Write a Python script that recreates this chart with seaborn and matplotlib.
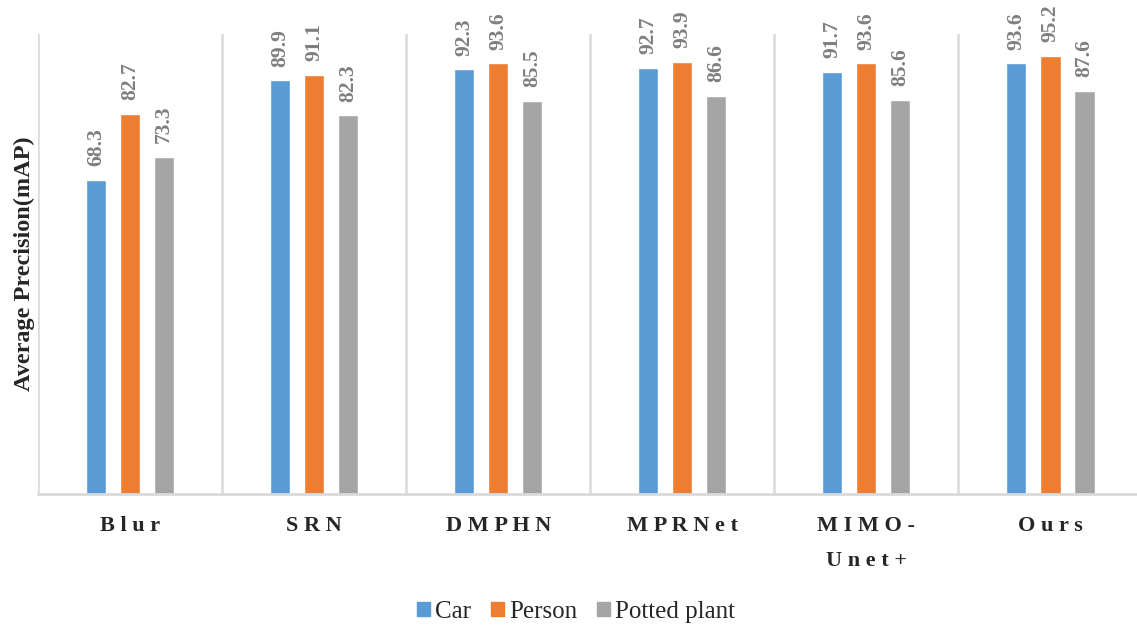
import pandas as pd
import numpy as np
import matplotlib
matplotlib.use('Agg')
import matplotlib.pyplot as plt
import seaborn as sns

methods = ['Blur', 'SRN', 'DMPHN', 'MPRNet', 'MIMO-\nUnet+', 'Ours']
classes = ['Car', 'Person', 'Potted plant']
car = [68.3, 89.9, 92.3, 92.7, 91.7, 93.6]
person = [82.7, 91.1, 93.6, 93.9, 93.6, 95.2]
potted_plant = [73.3, 82.3, 85.5, 86.6, 85.6, 87.6]
colors = ['#5B9BD5', '#ED7D31', '#A5A5A5']

df = pd.DataFrame({'method': methods * 3,
                   'class': np.repeat(classes, len(methods)),
                   'mAP': car + person + potted_plant})

sns.set_style('white')
plt.rcParams['font.family'] = ['Liberation Serif', 'DejaVu Serif']

fig = plt.figure(figsize=(11.37, 6.27), dpi=100)
ax = fig.add_axes([38 / 1137, 1 - 494 / 627, 1 - 38 / 1137, 460 / 627])

sns.barplot(data=df, x='method', y='mAP', hue='class', palette=colors,
            width=0.555, gap=0.41, ax=ax, legend=False, saturation=1)

# value labels above each bar
for c in ax.containers:
    ax.bar_label(c, fmt='%.1f', rotation=90, padding=10, fontsize=15.5,
                 fontweight='bold', color='#7F7F7F')

ax.set_ylim(0, 100)
ax.set_xlim(-0.5, 5.47)
ax.set_yticks([])
ax.set_ylabel('Average Precision(mAP)', fontsize=17.5, fontweight='bold', labelpad=2)
ax.set_xlabel('')

spaced = ['\n'.join(' '.join(p) for p in m.split('\n')) for m in methods]
ax.set_xticks(range(len(methods)))
ax.set_xticklabels(spaced, fontsize=16, fontweight='bold', linespacing=2.0)
ax.tick_params(axis='x', length=0, pad=16)

# category separators
ax.set_xticks(np.arange(-0.5, 5.5, 1), minor=True)
ax.tick_params(axis='x', which='minor', length=0)
ax.grid(False)
ax.grid(True, axis='x', which='minor', color='#D9D9D9', linewidth=1.8)

for s in ['top', 'right', 'left']:
    ax.spines[s].set_visible(False)
ax.spines['bottom'].set_color('#D9D9D9')
ax.spines['bottom'].set_linewidth(2)

handles = [plt.Rectangle((0, 0), 1, 1, color=col) for col in colors]
fig.legend(handles, classes, loc='center', bbox_to_anchor=(576 / 1137, 1 - 612 / 627),
           ncol=3, frameon=False, fontsize=18, handlelength=0.52, handleheight=0.52,
           handletextpad=0.2, columnspacing=0.8)

plt.savefig('out.png', dpi=100)
